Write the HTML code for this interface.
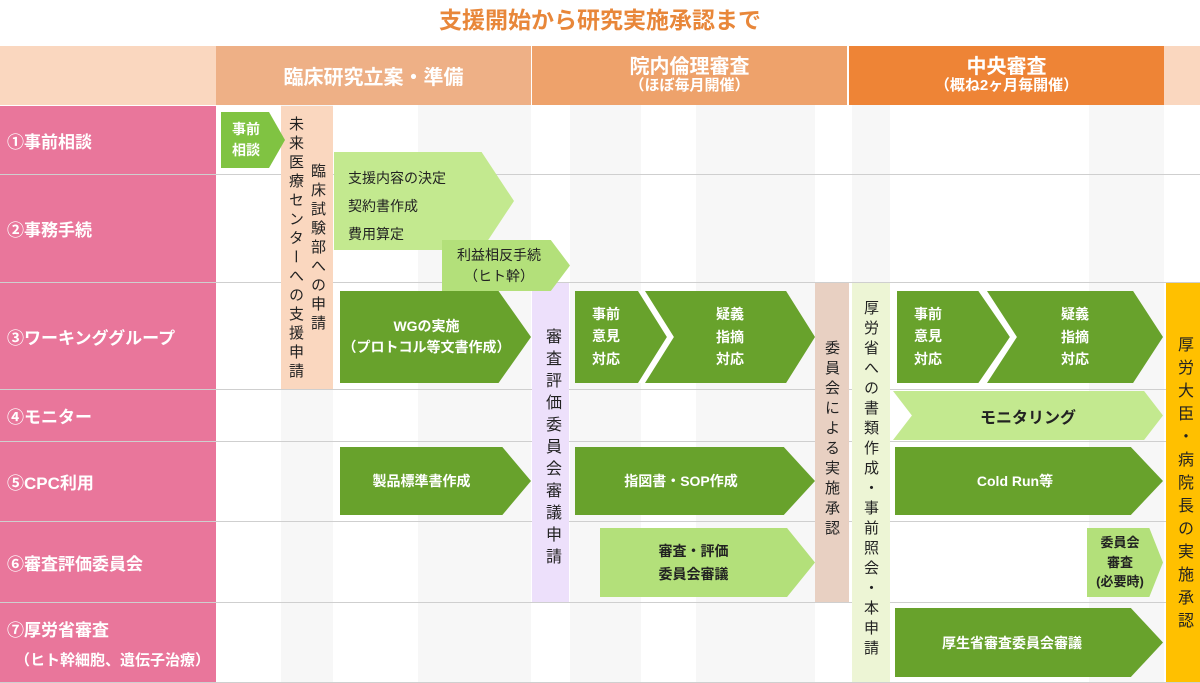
<!DOCTYPE html>
<html><head><meta charset="utf-8"><style>
*{margin:0;padding:0;box-sizing:border-box}
body{width:1200px;height:683px;position:relative;background:#fff;font-family:"Liberation Sans","Noto Sans CJK JP",sans-serif;overflow:hidden}
.a{position:absolute}
.t{display:flex;align-items:center;justify-content:center;text-align:center;font-weight:bold}
.v{writing-mode:vertical-rl;font-size:15px;letter-spacing:4px;color:#222}
.row{position:absolute;left:0;width:216px;color:#fff;font-weight:bold;font-size:17px;padding-left:7px;display:flex;flex-direction:column;justify-content:center;background:#E9769B}
.dk{background:#68A22C;color:#fff}
.lt{background:#C3E98F;color:#222}
.lt2{background:#B3E07A;color:#222}
.line{position:absolute;left:0;width:1200px;height:1px;background:#cfcfcf}
</style></head><body>
<div class="a t" style="left:0;top:3px;width:1200px;height:30px;color:#E8873A;font-size:23px">支援開始から研究実施承認まで</div>
<!-- header -->
<div class="a" style="left:0;top:46px;width:216px;height:59px;background:#FAD7BF"></div>
<div class="a t" style="left:216px;top:46px;width:315px;height:59px;background:#EEB086;color:#fff;font-size:20px">臨床研究立案・準備</div>
<div class="a t" style="left:532px;top:46px;width:315px;height:59px;background:#EEA26B;color:#fff;font-size:20px;flex-direction:column;line-height:1.05">院内倫理審査<span style="font-size:15px">（ほぼ毎月開催）</span></div>
<div class="a t" style="left:849px;top:46px;width:315px;height:59px;background:#EE8436;color:#fff;font-size:20px;flex-direction:column;line-height:1.05">中央審査<span style="font-size:15px">（概ね2ヶ月毎開催）</span></div>
<div class="a" style="left:1164px;top:46px;width:36px;height:59px;background:#FAD7BF"></div>
<!-- stripes -->
<div class="a" style="left:418px;top:105px;width:113px;height:578px;background:#F7F7F7"></div>
<div class="a" style="left:570px;top:105px;width:71px;height:578px;background:#F7F7F7"></div>
<div class="a" style="left:696px;top:105px;width:119px;height:578px;background:#F7F7F7"></div>
<div class="a" style="left:852px;top:105px;width:38px;height:578px;background:#F7F7F7"></div>
<div class="a" style="left:1089px;top:105px;width:75px;height:578px;background:#F7F7F7"></div>
<div class="a" style="left:281px;top:105px;width:52px;height:578px;background:#F7F7F7"></div>
<!-- rows -->
<div class="row" style="top:106px;height:68px">①事前相談</div>
<div class="row" style="top:175px;height:107px">②事務手続</div>
<div class="row" style="top:283px;height:106px">③ワーキンググループ</div>
<div class="row" style="top:390px;height:51px">④モニター</div>
<div class="row" style="top:442px;height:79px">⑤CPC利用</div>
<div class="row" style="top:522px;height:80px">⑥審査評価委員会</div>
<div class="row" style="top:603px;height:79px">⑦厚労省審査<span style="font-size:15px;padding-left:8px;margin-top:8px">（ヒト幹細胞、遺伝子治療）</span></div>
<div class="line" style="top:174px"></div>
<div class="line" style="top:282px"></div>
<div class="line" style="top:389px"></div>
<div class="line" style="top:441px"></div>
<div class="line" style="top:521px"></div>
<div class="line" style="top:602px"></div>
<div class="line" style="top:682px"></div>
<!-- bands -->
<div class="a" style="left:281px;top:106px;width:52px;height:283px;background:#FAD7BF"></div>
<div class="a v" style="left:285px;top:116px;height:270px">未来医療センターへの支援申請</div>
<div class="a v" style="left:307px;top:163px;height:220px">臨床試験部への申請</div>
<div class="a" style="left:532px;top:283px;width:37px;height:319px;background:#EDE0FB"></div>
<div class="a v" style="left:539px;top:328px;height:260px;font-size:16px;letter-spacing:6px">審査評価委員会審議申請</div>
<div class="a" style="left:815px;top:283px;width:34px;height:319px;background:#E8D0C2"></div>
<div class="a v" style="left:821px;top:340px;height:260px;letter-spacing:5px">委員会による実施承認</div>
<div class="a" style="left:852px;top:283px;width:38px;height:399px;background:#EDF5D5"></div>
<div class="a v" style="left:860px;top:300px;height:380px;letter-spacing:5px">厚労省への書類作成・事前照会・本申請</div>
<div class="a" style="left:1166px;top:283px;width:34px;height:399px;background:#FFC000"></div>
<div class="a v" style="left:1171px;top:336px;height:340px;font-size:16px;letter-spacing:7px">厚労大臣・病院長の実施承認</div>
<!-- arrows -->
<div class="a t" style="left:221px;top:112px;width:64px;height:56px;background:#80C342;color:#fff;font-size:14px;line-height:1.5;padding-right:14px;clip-path:polygon(0 0,75% 0,100% 50%,75% 100%,0 100%)">事前<br>相談</div>
<div class="a lt" style="left:334px;top:152px;width:180px;height:98px;clip-path:polygon(0 0,82% 0,100% 50%,82% 100%,0 100%);font-size:14px;line-height:2;padding:12px 0 0 14px">支援内容の決定<br>契約書作成<br>費用算定</div>
<div class="a t lt2" style="left:442px;top:240px;width:128px;height:51px;clip-path:polygon(0 0,85% 0,100% 50%,85% 100%,0 100%);font-size:14px;font-weight:normal;line-height:1.5;padding-right:14px">利益相反手続<br>（ヒト幹）</div>
<div class="a t dk" style="left:340px;top:291px;width:191px;height:92px;clip-path:polygon(0 0,83% 0,100% 50%,83% 100%,0 100%);font-size:14px;line-height:1.5;padding-right:18px">WGの実施<br>（プロトコル等文書作成）</div>
<div class="a dk" style="left:575px;top:291px;width:103px;height:92px;clip-path:polygon(0 0,72% 0,100% 50%,72% 100%,0 100%);font-size:14px;font-weight:bold;line-height:1.6;padding:12px 0 0 17px">事前<br>意見<br>対応</div>
<div class="a" style="left:638px;top:291px;width:170px;height:92px;background:#fff;clip-path:polygon(0 0,83% 0,100% 50%,83% 100%,0 100%,17% 50%)"></div>
<div class="a t dk" style="left:645px;top:291px;width:170px;height:92px;clip-path:polygon(0 0,83% 0,100% 50%,83% 100%,0 100%,17% 50%);font-size:14px;line-height:1.6">疑義<br>指摘<br>対応</div>
<div class="a dk" style="left:897px;top:291px;width:113px;height:92px;clip-path:polygon(0 0,72% 0,100% 50%,72% 100%,0 100%);font-size:14px;font-weight:bold;line-height:1.6;padding:12px 0 0 17px">事前<br>意見<br>対応</div>
<div class="a" style="left:980px;top:291px;width:176px;height:92px;background:#fff;clip-path:polygon(0 0,83% 0,100% 50%,83% 100%,0 100%,17% 50%)"></div>
<div class="a t dk" style="left:987px;top:291px;width:176px;height:92px;clip-path:polygon(0 0,83% 0,100% 50%,83% 100%,0 100%,17% 50%);font-size:14px;line-height:1.6">疑義<br>指摘<br>対応</div>
<div class="a t lt" style="left:893px;top:391px;width:270px;height:49px;clip-path:polygon(0 0,93% 0,100% 50%,93% 100%,0 100%,7% 50%);font-size:16px">モニタリング</div>
<div class="a t dk" style="left:340px;top:447px;width:191px;height:68px;clip-path:polygon(0 0,85% 0,100% 50%,85% 100%,0 100%);font-size:14px;padding-right:28px">製品標準書作成</div>
<div class="a t dk" style="left:575px;top:447px;width:240px;height:68px;clip-path:polygon(0 0,87% 0,100% 50%,87% 100%,0 100%);font-size:14px;padding-right:28px">指図書・SOP作成</div>
<div class="a t dk" style="left:895px;top:447px;width:268px;height:68px;clip-path:polygon(0 0,88% 0,100% 50%,88% 100%,0 100%);font-size:14px;padding-right:28px">Cold Run等</div>
<div class="a t lt2" style="left:600px;top:528px;width:215px;height:69px;clip-path:polygon(0 0,87% 0,100% 50%,87% 100%,0 100%);font-size:14px;line-height:1.6;padding-right:28px">審査・評価<br>委員会審議</div>
<div class="a t lt2" style="left:1087px;top:528px;width:76px;height:69px;clip-path:polygon(0 0,82% 0,100% 50%,82% 100%,0 100%);font-size:13px;line-height:1.5;padding-right:10px">委員会<br>審査<br>(必要時)</div>
<div class="a t dk" style="left:895px;top:608px;width:268px;height:69px;clip-path:polygon(0 0,88% 0,100% 50%,88% 100%,0 100%);font-size:14px;padding-right:34px">厚生省審査委員会審議</div>
</body></html>
